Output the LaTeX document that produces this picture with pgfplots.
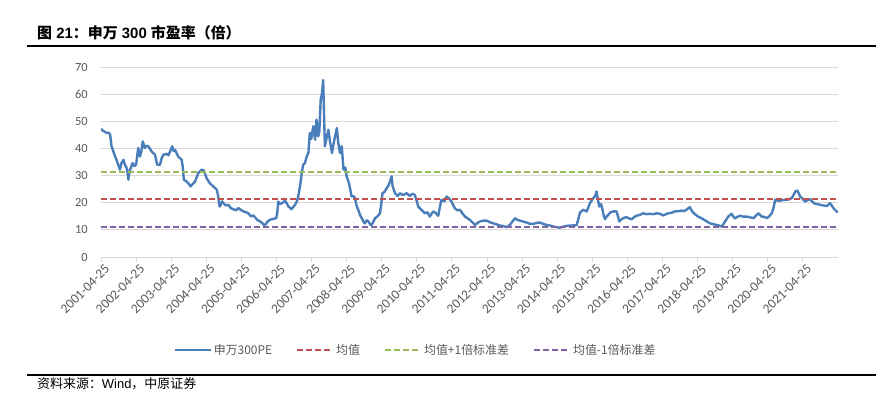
\documentclass[border=0pt]{standalone}
\usepackage{pgfplots}
\pgfplotsset{compat=1.18}
\usepackage{fontspec}
\setmainfont{Liberation Sans}
\newfontfamily\cjk{Noto Sans CJK SC}
\newfontfamily\tickfont{Carlito}
\definecolor{pe}{HTML}{4A7EBB}
\definecolor{mred}{HTML}{C0504D}
\definecolor{mgreen}{HTML}{9BBB59}
\definecolor{mpurple}{HTML}{8064A2}
\definecolor{tickgray}{HTML}{595959}
\definecolor{gridgray}{HTML}{D9D9D9}
\begin{document}
\begin{tikzpicture}[x=1bp,y=1bp]
\useasboundingbox (0,0) rectangle (876,-399);
\node[anchor=west,inner sep=0pt] at (37,-33) {\fontsize{15}{17}\selectfont\bfseries{\cjk 图} 21{\cjk ：申万} 300 {\cjk 市盈率（倍）}};
\draw[line width=2.5bp] (27,-46) -- (876,-46);
\draw[line width=2bp] (27,-375) -- (876,-375);
\node[anchor=west,inner sep=0pt] at (37,-384) {\fontsize{13}{15}\selectfont{\cjk 资料来源：}Wind{\cjk ，中原证券}};
\begin{axis}[
  at={(101bp,-257bp)}, anchor=south west,
  scale only axis, width=737bp, height=190bp,
  xmin=0, xmax=21, ymin=0, ymax=70,
  ytick={0,10,...,70},
  xtick={0,...,20},
  xticklabels={2001-04-25,2002-04-25,2003-04-25,2004-04-25,2005-04-25,2006-04-25,2007-04-25,2008-04-25,2009-04-25,2010-04-25,2011-04-25,2012-04-25,2013-04-25,2014-04-25,2015-04-25,2016-04-25,2017-04-25,2018-04-25,2019-04-25,2020-04-25,2021-04-25},
  axis line style={draw=none},
  ymajorgrids, grid style={draw=gridgray, line width=1bp},
  tick pos=left, tick align=outside,
  major tick length=5bp,
  ytick style={draw=none},
  xtick style={draw=gridgray, line width=1bp},
  /pgf/number format/assume math mode=true,
  yticklabel style={font=\tickfont\fontsize{12.5}{14}\selectfont, text=tickgray, inner sep=0pt, xshift=-8bp},
  xticklabel style={font=\tickfont\fontsize{13.5}{15}\selectfont, text=tickgray, rotate=45, anchor=east, inner sep=0pt, yshift=-8bp, xshift=1bp},
  legend style={at={(0.4267,-0.489)}, anchor=center, draw=none, fill=none,
    font=\cjk\fontsize{12}{14}\selectfont, text=tickgray,
    /tikz/every even column/.append style={column sep=22bp}},
  legend columns=4,
  legend image code/.code={\draw[#1] (0bp,0bp) -- (36bp,0bp);},
]
\addplot[pe, line width=2.4bp, line join=round] coordinates {
(0,47.2) (0.05,46.5) (0.1,46.2) (0.16,45.7) (0.22,45.8) (0.26,45.1) (0.3,40.8) (0.35,39) (0.4,37.1) (0.45,35.5) (0.49,34) (0.52,33) (0.54,32.2) (0.58,34.5) (0.64,35.8) (0.68,34) (0.73,32.8) (0.76,31) (0.78,28.5) (0.8,30.5) (0.83,32.2) (0.9,34.6) (0.95,33.5) (1.0,34) (1.06,40.2) (1.11,37) (1.15,39) (1.19,42.6) (1.25,40.2) (1.3,41) (1.35,40.8) (1.44,38.9) (1.54,37.7) (1.6,34) (1.68,34) (1.73,36.5) (1.78,37.7) (1.87,38) (1.92,37.5) (1.97,38.9) (2.03,40.8) (2.07,39) (2.11,39.5) (2.2,37) (2.3,35.8) (2.33,33) (2.36,28.5) (2.44,27.8) (2.5,27) (2.55,26) (2.62,27) (2.68,27.8) (2.77,30.9) (2.87,32.2) (2.93,31.9) (3.01,29) (3.1,27.2) (3.2,26) (3.3,24.8) (3.34,22.3) (3.37,19) (3.39,18.6) (3.45,20.5) (3.49,19.8) (3.56,19) (3.63,19.2) (3.7,18) (3.77,17.6) (3.85,17.2) (3.91,18) (3.98,17.4) (4.06,16.8) (4.13,16.5) (4.2,16.1) (4.27,15) (4.34,15.3) (4.4,14.5) (4.45,13.7) (4.52,13.2) (4.58,12.7) (4.64,11.8) (4.69,12) (4.74,13) (4.8,13.6) (4.86,13.9) (4.93,14.1) (4.99,14.3) (5.02,16) (5.05,20.4) (5.1,19.5) (5.15,19.8) (5.2,20.2) (5.24,20.8) (5.3,19.6) (5.34,18.6) (5.38,18.2) (5.43,17.6) (5.48,18.5) (5.53,19.2) (5.58,20.5) (5.62,22.3)
(5.67,26) (5.72,30.9) (5.76,34) (5.81,34.6) (5.86,37) (5.91,38.5) (5.95,45.7) (5.99,43.5) (6.05,48.2) (6.1,43.2) (6.14,50.6) (6.19,44.5) (6.22,46) (6.26,58) (6.3,60.5) (6.33,65.2) (6.36,50) (6.38,40.8) (6.43,44) (6.48,46.9) (6.52,43) (6.58,38.3) (6.64,42.6) (6.72,47.5) (6.76,42) (6.81,38.3) (6.86,40.8) (6.91,32.2) (6.96,33) (7.0,29.7) (7.07,27) (7.14,22.3) (7.19,22.5) (7.24,21.7) (7.28,19) (7.33,17.4) (7.38,15.5) (7.43,14.3) (7.48,13) (7.52,12.4) (7.57,13.5) (7.62,13.1) (7.67,12) (7.71,11.8) (7.76,13) (7.81,14.3) (7.88,15) (7.95,16.1) (7.98,19) (8.02,23.5) (8.08,24) (8.14,25.4) (8.2,26.5) (8.28,29.7) (8.31,26) (8.38,23.5) (8.45,22.5) (8.52,23.5) (8.6,22.8) (8.71,23.5) (8.8,22.5) (8.87,23.3) (8.94,22.9) (9.0,20.5) (9.04,18.6) (9.12,17.5) (9.23,16.1) (9.3,16.5) (9.37,14.9) (9.42,16) (9.47,16.8) (9.54,16.2) (9.61,15.2) (9.65,18) (9.7,21.1) (9.78,20.5) (9.85,22.3) (9.92,21.5) (9.99,20.4) (10.04,19) (10.08,18) (10.15,17.2) (10.23,17.4) (10.3,16) (10.37,14.9) (10.44,14.3) (10.51,13.7) (10.58,12.8) (10.66,11.8) (10.73,12.6) (10.8,13.1) (10.9,13.4) (10.99,13.4) (11.08,12.8) (11.18,12.4) (11.28,12) (11.37,11.6) (11.46,11.4) (11.56,11) (11.65,11.8) (11.72,13) (11.8,14.3) (11.87,13.6) (11.94,13.4) (12.04,13) (12.13,12.7) (12.22,12.2) (12.32,12.2) (12.42,12.6) (12.51,12.7) (12.6,12.2) (12.7,11.8) (12.8,11.6) (12.89,11.2) (12.98,11) (13.08,10.8)
(13.17,11.2) (13.27,11.5) (13.4,11.6) (13.55,11.7) (13.6,14) (13.65,16.4) (13.74,17.4) (13.84,16.8) (13.93,19.8) (14.03,21.7) (14.08,22.5) (14.12,24.1) (14.16,21) (14.2,18.6) (14.25,19.5) (14.29,17.4) (14.33,15) (14.36,13.9) (14.4,14.8) (14.45,15.5) (14.52,16.5) (14.6,16.8) (14.69,16.8) (14.73,15) (14.77,13.1) (14.82,13.8) (14.88,14.3) (14.97,14.7) (15.05,14.2) (15.12,13.9) (15.2,14.8) (15.26,15.2) (15.35,15.5) (15.45,16.1) (15.55,15.8) (15.64,15.9) (15.74,15.8) (15.83,16.1) (15.93,15.9) (16.02,15.3) (16.1,15.8) (16.16,16.1) (16.26,16.3) (16.35,16.8) (16.45,16.9) (16.54,17.1) (16.61,16.9) (16.68,17.4) (16.78,18.4) (16.82,17.3) (16.87,16.4) (16.94,15.6) (17.01,14.9) (17.08,14.5) (17.16,13.9) (17.25,13.2) (17.35,12.4) (17.45,12.1) (17.54,11.8) (17.61,11.6) (17.68,11.2) (17.73,12) (17.78,13.1) (17.83,14) (17.87,14.9) (17.97,15.9) (18.01,15) (18.06,14.2) (18.13,14.8) (18.21,15.2) (18.3,14.9) (18.4,14.9) (18.5,14.6) (18.59,14.3) (18.66,15.2) (18.73,16.1) (18.78,15.5) (18.82,14.9) (18.9,14.8) (18.97,14.3) (19.04,15) (19.11,16.1) (19.16,18) (19.21,21.1) (19.28,20.8) (19.35,20.8) (19.45,21) (19.54,21.1) (19.6,21.2) (19.68,21.7) (19.74,23) (19.78,24.1) (19.84,24.5) (19.88,23.5) (19.92,22.3) (19.99,21.5) (20.06,20.4) (20.13,21) (20.2,21.3) (20.27,20.3) (20.35,19.6) (20.42,19.5) (20.49,19.2) (20.58,19) (20.68,18.8) (20.77,19.8) (20.82,19) (20.87,18) (20.93,17.2) (20.99,16.4)
};
\addlegendentry{申万300PE}
\addplot[mred, line width=2bp, dash pattern=on 6bp off 3bp] coordinates {(0,21.2) (21,21.2)};
\addlegendentry{均值}
\addplot[mgreen, line width=2bp, dash pattern=on 6bp off 3bp] coordinates {(0,31.2) (21,31.2)};
\addlegendentry{均值+1倍标准差}
\addplot[mpurple, line width=2bp, dash pattern=on 6bp off 3bp] coordinates {(0,11.1) (21,11.1)};
\addlegendentry{均值-1倍标准差}
\end{axis}
\end{tikzpicture}
\end{document}
